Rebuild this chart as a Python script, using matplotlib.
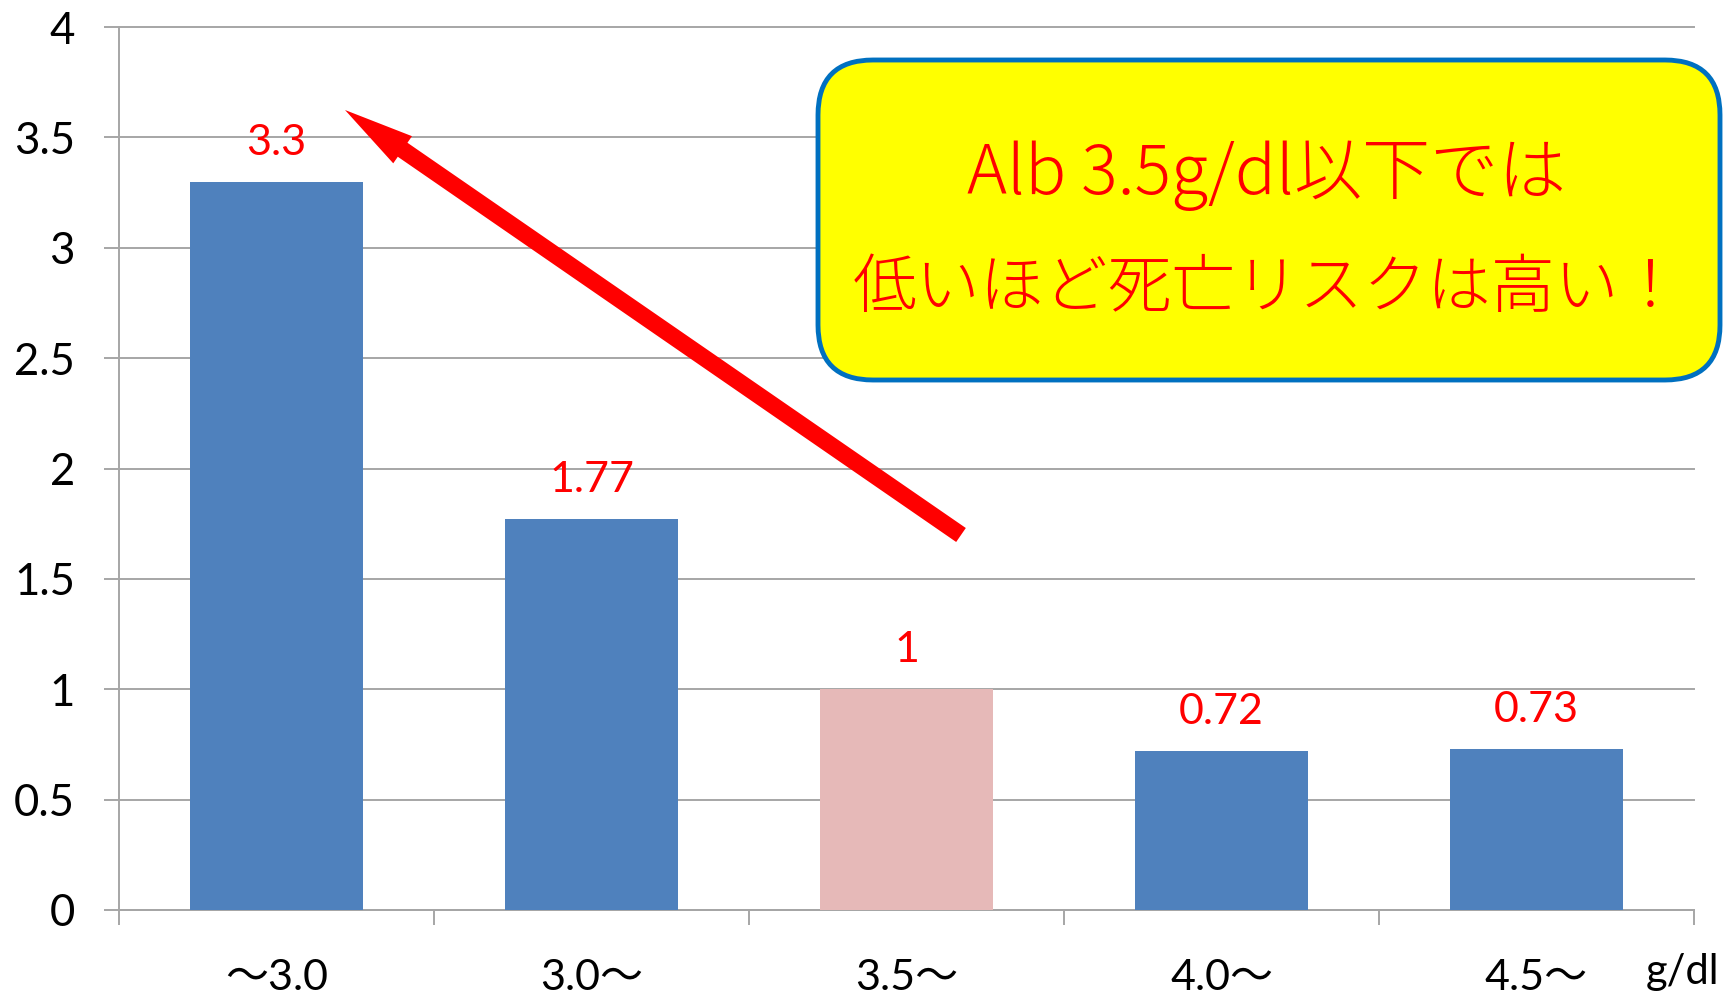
import matplotlib
matplotlib.use("Agg")
import matplotlib.pyplot as plt
from matplotlib.patches import FancyBboxPatch, FancyArrow
import numpy as np

# ---- data ----
categories = ["～3.0", "3.0～", "3.5～", "4.0～", "4.5～"]
values = [3.3, 1.77, 1.0, 0.72, 0.73]
value_labels = ["3.3", "1.77", "1", "0.72", "0.73"]
bar_colors = ["#4F81BD", "#4F81BD", "#E6B9B8", "#4F81BD", "#4F81BD"]
yticks = [0, 0.5, 1, 1.5, 2, 2.5, 3, 3.5, 4]
ytick_labels = ["0", "0.5", "1", "1.5", "2", "2.5", "3", "3.5", "4"]
unit_label = "g/dl"
callout_lines = ["Alb 3.5g/dl以下では", "低いほど死亡リスクは高い！"]

W, H = 1725, 994
fig = plt.figure(figsize=(W / 100, H / 100), dpi=100)
fig.patch.set_facecolor("white")

num_font = ["Lato", "Noto Sans CJK JP", "DejaVu Sans"]
grid_c = "#A6A6A6"

ax = fig.add_axes([119 / W, 1 - 910 / H, (1694 - 119) / W, (910 - 27) / H])
x = np.arange(len(categories))
ax.bar(x, values, width=0.552, color=bar_colors, zorder=3)
ax.set_xlim(-0.5, len(categories) - 0.5)
ax.set_ylim(0, 4)

# y axis
ax.set_yticks(yticks)
ax.set_yticklabels(ytick_labels, fontsize=31.5, family=num_font, color="black")
ax.tick_params(axis="y", length=10.8, width=1.4, color=grid_c, pad=21, direction="out")
ax.yaxis.grid(True, color=grid_c, linewidth=1.4, zorder=0)
for gl in ax.get_ygridlines():
    gl.set_clip_on(False)
ax.set_axisbelow(True)

# x axis: boundary ticks (major), centered labels (minor)
ax.set_xticks(np.arange(-0.5, len(categories), 1.0))
ax.tick_params(axis="x", which="major", length=10.8, width=1.4, color=grid_c,
               direction="out", labelbottom=False)
ax.set_xticks(x, minor=True)
ax.set_xticklabels(categories, minor=True, fontsize=31, family=num_font)
ax.tick_params(axis="x", which="minor", length=0, pad=35)

for s in ["top", "right"]:
    ax.spines[s].set_visible(False)
for s in ["left", "bottom"]:
    ax.spines[s].set_color(grid_c)
    ax.spines[s].set_linewidth(1.4)

# data labels
for xi, v, lab in zip(x, values, value_labels):
    ax.annotate(lab, (xi, v), xytext=(0, 28), textcoords="offset points",
                ha="center", va="center", color="#FF0000", fontsize=31, family=num_font)

# unit label
fig.text(1719 / W, 1 - 972 / H, unit_label, ha="right", va="center",
         fontsize=30, family=num_font)

# overlay in pixel coordinates
ov = fig.add_axes([0, 0, 1, 1], zorder=5)
ov.set_xlim(0, W)
ov.set_ylim(H, 0)
ov.axis("off")
ov.patch.set_alpha(0)

box = FancyBboxPatch((818, 60), 902, 320, boxstyle="round,pad=0,rounding_size=55",
                     facecolor="#FFFF00", edgecolor="#0070C0", linewidth=3.5)
ov.add_patch(box)
ov.text(1267, 176, callout_lines[0], ha="center", va="center", fontsize=49,
        color="#FF0000", family=["Noto Sans CJK JP"], fontweight="light")
ov.text(1268, 290, callout_lines[1], ha="center", va="center", fontsize=46,
        color="#FF0000", family=["Noto Sans CJK JP"], fontweight="light")

arrow = FancyArrow(961, 535, 345 - 961, 110 - 535, width=17, head_width=33,
                   head_length=70, length_includes_head=True,
                   facecolor="#FF0000", edgecolor="none")
ov.add_patch(arrow)

fig.savefig("out.png", dpi=100)
